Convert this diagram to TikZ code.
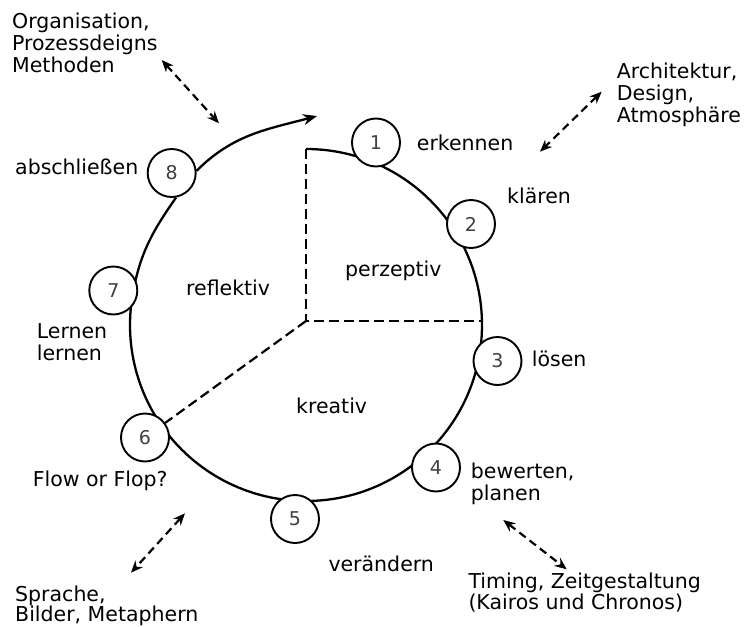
\documentclass[tikz,border=0pt]{standalone}
\usepackage{fontspec}
\setmainfont{DejaVu Sans}
\usetikzlibrary{arrows.meta}
\begin{document}
\begin{tikzpicture}[x=1pt,y=1pt,
  stage/.style={circle,draw,line width=1.9pt,fill=white,minimum size=48pt,inner sep=0pt,
    text=black!75,font=\fontsize{19}{19}\selectfont},
  lbl/.style={inner sep=0pt,anchor=base west,align=left,font=\fontsize{20.5}{22}\selectfont},
  ring/.style={line width=2.3pt},
  sector/.style={line width=2.2pt,dash pattern=on 10pt off 5pt},
  link/.style={line width=2.2pt,dash pattern=on 8pt off 5pt,
    {Stealth[length=12pt,width=10pt]}-{Stealth[length=12pt,width=10pt]}}
]
\useasboundingbox (0,0) rectangle (748,-627);

% ring
\coordinate (p0) at (306,-149);
\coordinate (O) at (306,-321);
\coordinate (pr) at (482,-321);
\coordinate (tip) at (317,-116);

\node[stage] (n8) at (171.7,-173) {8};
\draw[ring] (p0) arc[start angle=90,end angle=-190,radius=176]
  to[out=80,in=-125] (n8.-80);
\draw[ring,-{Stealth[length=14pt,width=11pt]}] (n8.5) to[out=45,in=195] (tip);

% sectors
\draw[sector] (p0) -- (O) -- (pr);

% stages
\node[stage] (n1) at (376,-142.5) {1};
\node[stage] (n2) at (471,-224) {2};
\node[stage] (n3) at (497.5,-361) {3};
\node[stage] (n4) at (436,-467.5) {4};
\node[stage] (n5) at (295,-519) {5};
\node[stage] (n6) at (145,-437.5) {6};
\node[stage] (n7) at (113.3,-290.5) {7};

\draw[sector] (O) -- (n6);

% labels (multi-line nodes: base = last line)
\node[lbl] (tOrg) at (12,-72) {Organisation,\\Prozessdeigns\\Methoden};
\node[lbl] (tArch) at (616.7,-122.3) {Architektur,\\Design,\\Atmosphäre};
\node[lbl] (t1) at (416.7,-150) {erkennen};
\node[lbl] (t2) at (507,-203) {klären};
\node[lbl] (t3) at (531.7,-366.7) {lösen};
\node[lbl] (t4) at (470.7,-500.3) {bewerten,\\planen};
\node[lbl] (t5) at (328.3,-571.7) {verändern};
\node[lbl] (t6) at (32.7,-486.7) {Flow or Flop?};
\node[lbl] (t7) at (36.7,-360) {Lernen\\lernen};
\node[lbl] (t8) at (15,-174) {abschließen};
\node[lbl] (tRef) at (186,-295.5) {reflektiv};
\node[lbl] (tPer) at (345,-276) {perzeptiv};
\node[lbl] (tKre) at (296,-413.5) {kreativ};
\node[lbl,font=\fontsize{20.5}{19}\selectfont] (tTim) at (468.3,-609) {Timing, Zeitgestaltung\\(Kairos und Chronos)};
\node[lbl,font=\fontsize{20.5}{20}\selectfont] (tSpr) at (15,-621.7) {Sprache,\\Bilder, Metaphern};

% double arrows
\coordinate (a1s) at (161.7,-60);
\coordinate (a1e) at (219,-123.3);
\coordinate (a2s) at (601.7,-91.7);
\coordinate (a2e) at (540,-151.7);
\coordinate (a3s) at (185,-513.3);
\coordinate (a3e) at (131,-572.7);
\coordinate (a4s) at (503.3,-520);
\coordinate (a4e) at (566.7,-569.3);
\draw[link] (a1s) -- (a1e);
\draw[link] (a2s) -- (a2e);
\draw[link] (a3s) -- (a3e);
\draw[link] (a4s) -- (a4e);
\end{tikzpicture}
\end{document}
